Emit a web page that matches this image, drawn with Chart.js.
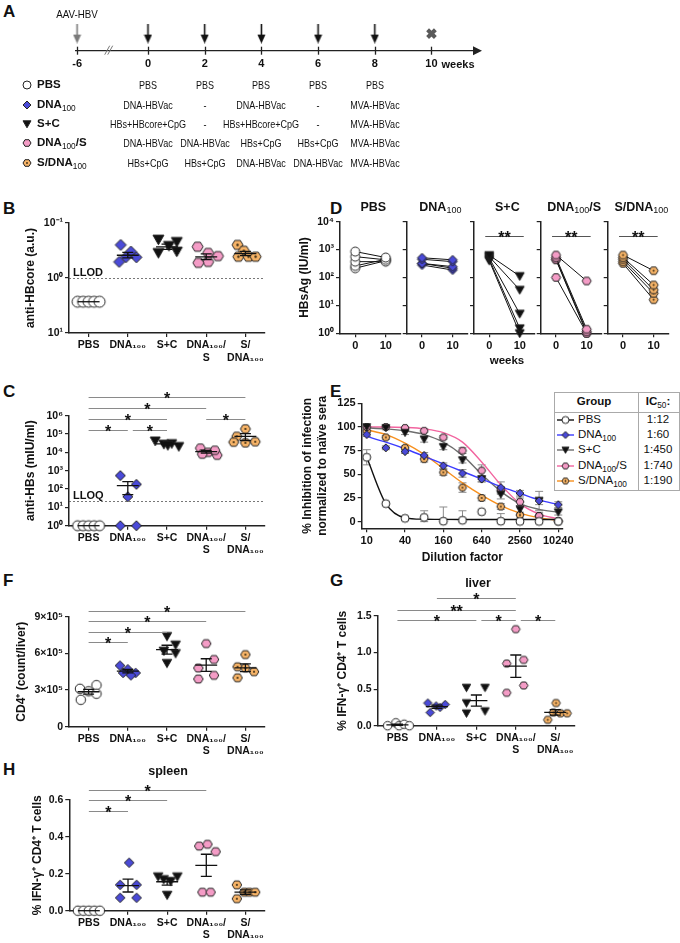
<!DOCTYPE html>
<html>
<head>
<meta charset="utf-8">
<script src="https://cdn.jsdelivr.net/npm/chart.js@4.4.1/dist/chart.umd.min.js"></script>
<style>
html, body { margin: 0; padding: 0; background: #fff; }
body { width: 680px; height: 943px; position: relative; overflow: hidden; font-family: "Liberation Sans", Arial, Helvetica, sans-serif; color: #111; }
canvas { position: absolute; }
.t { position: absolute; white-space: nowrap; line-height: 1; transform: translate(-50%, -50%); }
.lt { position: absolute; white-space: nowrap; line-height: 1; transform: translate(0, -50%); }
.pl { position: absolute; font-weight: bold; font-size: 17px; line-height: 1; transform: translate(0, -50%); }
.b { font-weight: bold; }
.sch { font-size: 11px; transform: translate(-50%, -50%) scaleX(0.82); }
sub { font-size: 72%; font-weight: normal; vertical-align: -0.28em; line-height: 0; }
.box { position: absolute; border: 1px solid #aaa; background: #fff; }
</style>
</head>
<body>
<script>
const FONT = '"Liberation Sans", Arial, Helvetica, sans-serif';

// ---------- groups / labels ----------
const groupHtml = ['PBS', 'DNA<sub>100</sub>', 'S+C', 'DNA<sub>100</sub>/S', 'S/DNA<sub>100</sub>'];
const dotLabels = ['PBS', 'DNA₁₀₀', 'S+C', ['DNA₁₀₀/', 'S'], ['S/', 'DNA₁₀₀']];

// ---------- A: schedule ----------
const timeTicks = [-6, 0, 2, 4, 6, 8, 10];
const doseWeeks = [0, 2, 4, 6, 8];
const infectWeek = -6;
const endWeek = 10;
const schedPBS = ['PBS', 'PBS', 'PBS', 'PBS', 'PBS'];
const schedDNA = ['DNA-HBVac', '-', 'DNA-HBVac', '-', 'MVA-HBVac'];
const schedSC = ['HBs+HBcore+CpG', '-', 'HBs+HBcore+CpG', '-', 'MVA-HBVac'];
const schedDS = ['DNA-HBVac', 'DNA-HBVac', 'HBs+CpG', 'HBs+CpG', 'MVA-HBVac'];
const schedSD = ['HBs+CpG', 'HBs+CpG', 'DNA-HBVac', 'DNA-HBVac', 'MVA-HBVac'];

// ---------- B: anti-HBcore ----------
const hbcPBS = [2.7, 2.7, 2.7, 2.7, 2.7];
const hbcDNA = [0.25, 0.33, 0.42, 0.42, 0.51];
const hbcSC = [0.2, 0.22, 0.26, 0.33, 0.35];
const hbcDS = [0.27, 0.35, 0.4, 0.51, 0.53];
const hbcSD = [0.25, 0.32, 0.41, 0.41, 0.41];
const hbcTicks = [0.1, 1, 10];
const hbcLLOD = 1;

// ---------- C: anti-HBs ----------
const hbsPBS = [1, 1, 1, 1, 1];
const hbsDNA = [540, 180, 38, 1, 1];
const hbsSC = [28000, 42000, 30000, 21000, 24000];
const hbsDS = [17000, 10000, 7000, 8000, 13000];
const hbsSD = [190000, 75000, 36000, 33000, 38000];
const hbsTicks = [1, 10, 100, 1e3, 1e4, 1e5, 1e6];
const hbsLLOQ = 22;
const sigC = [[1, 5, 1e7, '*'], [1, 4, 2.5e6, '*'], [1, 3, 6.3e5, '*'], [1, 2, 1.6e5, '*'], [2, 3, 1.6e5, '*'], [4, 5, 6.3e5, '*']];

// ---------- D: HBsAg week 0 / week 10 ----------
const weekCats = ['0', '10'];
const agPBS0 = [850, 560, 370, 260, 215],   agPBS10 = [520, 430, 370, 450, 400];
const agDNA0 = [510, 450, 320, 320, 280],   agDNA10 = [430, 370, 245, 215, 185];
const agSC0 = [630, 560, 500, 450, 400],    agSC10 = [112, 36, 5, 1.5, 1];
const agDS0 = [640, 520, 450, 430, 100],    agDS10 = [75, 1.4, 1.15, 1, 1];
const agSD0 = [640, 520, 450, 370, 320],    agSD10 = [175, 54, 36, 27, 16];
const agTicks = [1, 10, 100, 1000, 10000];
const sigD = [null, null, [0, 1, 3162, '**'], [0, 1, 3162, '**'], [0, 1, 3162, '**']];

// ---------- E: neutralisation ----------
const dilutions = [10, 20, 40, 80, 160, 320, 640, 1280, 2560, 5120, 10240];
const dilTicks = [10, 40, 160, 640, 2560, 10240];
const inhTicks = [0, 25, 50, 75, 100, 125];
const inhPBS = [68, 19, 3.5, 4.5, 0.5, 1.5, 10.5, 0.5, 0.3, 0.3, 0.3];
const inhDNA = [92, 78, 74, 70, 59, 51, 45, 36, 30, 22, 18];
const inhSC = [100, 99, 94, 87, 79, 65, 45, 29, 13, 22, 10];
const inhDS = [100, 100, 99, 96, 89, 75, 54, 33, 21, 6, 0.5];
const inhSD = [96, 89, 78, 66, 52, 36, 25, 16, 7, 6, 0.5];
const fitPBS = [68, 19, 4, 2.6, 2.4, 2.3, 2.3, 2.3, 2.3, 2.3, 2.3];
const fitDNA = [90, 84, 77, 69, 61, 53, 45, 37, 30, 23, 18];
const fitSC = [99, 98, 96, 92, 84, 70, 50, 32, 19, 13, 10];
const fitDS = [100, 100, 99.5, 98, 94, 84, 63, 39, 19, 8, 3];
const fitSD = [97, 92, 83, 71, 56, 41, 28, 17, 9, 4, 1.5];
const errPBS = [8, 0, 0, 7, 15, 10, 0, 8, 0, 0, 0];
const errDNA = [2, 2, 2, 3, 3, 4, 3, 6, 3, 4, 3];
const errSC = [1, 2, 2, 3, 3, 3, 3, 5, 4, 10, 3];
const errDS = [1, 1, 1, 2, 2, 3, 6, 4, 4, 3, 1];
const errSD = [2, 2, 2, 3, 3, 5, 3, 3, 3, 4, 1];
const ic50 = ['1:12', '1:60', '1:450', '1:740', '1:190'];

// ---------- F: CD4 count ----------
const cd4PBS = [3.4e5, 3.1e5, 2.9e5, 2.7e5, 2.2e5];
const cd4DNA = [5.0e5, 4.7e5, 4.4e5, 4.4e5, 4.2e5];
const cd4SC = [7.4e5, 6.7e5, 6.2e5, 6.0e5, 5.2e5];
const cd4DS = [6.8e5, 5.5e5, 4.8e5, 4.2e5, 3.9e5];
const cd4SD = [5.9e5, 4.9e5, 4.8e5, 4.5e5, 4.0e5];
const cd4Ticks = [0, 3e5, 6e5, 9e5];
const sigF = [[1, 5, 9.46e5, '*'], [1, 4, 8.64e5, '*'], [1, 3, 7.77e5, '*'], [1, 2, 6.9e5, '*']];

// ---------- G: liver IFN-g ----------
const livPBS = [0, 0.04, 0, 0.02, 0];
const livDNA = [0.31, 0.27, 0.29, 0.25, 0.18];
const livSC = [0.52, 0.52, 0.31, 0.2, 0.17];
const livDS = [1.32, 0.9, 0.85, 0.55, 0.45];
const livSD = [0.31, 0.18, 0.17, 0.17, 0.08];
const livTicks = [0, 0.5, 1, 1.5];
const sigG = [[2, 4, 1.74, '*'], [1, 4, 1.585, '**'], [1, 3, 1.444, '*'], [3, 4, 1.444, '*'], [4, 5, 1.444, '*']];

// ---------- H: spleen IFN-g ----------
const splPBS = [0, 0, 0, 0, 0];
const splDNA = [0.26, 0.14, 0.14, 0.07, 0.07];
const splSC = [0.185, 0.185, 0.17, 0.16, 0.085];
const splDS = [0.35, 0.36, 0.32, 0.1, 0.1];
const splSD = [0.14, 0.1, 0.1, 0.1, 0.065];
const splTicks = [0, 0.2, 0.4, 0.6];
const sigH = [[1, 4, 0.656, '*'], [1, 3, 0.598, '*'], [1, 2, 0.542, '*']];

// horizontal scatter of dots inside a group (fraction of group spacing)
const rowJit = [-0.28, -0.14, 0, 0.14, 0.28];
const jitB = [rowJit, [-0.18, 0.08, -0.05, 0.22, -0.22], [-0.22, 0.25, 0.05, 0.25, -0.22], [-0.22, 0.05, 0.3, 0.05, -0.2], [-0.2, -0.04, -0.18, 0.08, 0.26]];
const jitC = [rowJit, [-0.19, 0.22, 0, -0.19, 0.22], [-0.08, -0.3, 0.12, 0.3, 0.02], [-0.15, 0.05, 0.28, -0.1, 0.22], [0, -0.22, -0.3, 0, 0.25]];
const jitF = [[0.2, -0.22, 0, 0.2, -0.2], [-0.2, 0, -0.12, 0.2, 0.08], [0, 0.22, -0.08, 0.22, 0], [0, 0.2, -0.2, 0.2, -0.2], [0, -0.2, 0, 0.22, -0.2]];
const jitG = [[-0.25, -0.04, 0.04, 0.17, 0.3], [-0.23, -0.02, 0.21, 0.08, -0.17], [-0.25, 0.22, -0.25, 0.22, -0.25], [0, 0.2, -0.23, 0.2, -0.23], [0.02, -0.05, 0.13, 0.3, -0.19]];
const jitH = [rowJit, [0.03, -0.2, 0.22, -0.2, 0.22], [-0.23, 0.26, -0.09, 0.09, 0], [-0.18, 0.03, 0.24, -0.1, 0.11], [-0.22, -0.03, 0.1, 0.25, -0.22]];

// ---------- styles ----------
const INK = '#222';
const BLUE = '#4a4ad8', PINK = '#f49cc6', ORANGE = '#f7b468';
const lineColors = ['#111', '#3c3cff', '#6e6e6e', '#f2649f', '#f7901e'];

Chart.defaults.font.family = FONT;
Chart.defaults.font.weight = 'bold';
Chart.defaults.font.size = 10.5;
Chart.defaults.color = '#111';
Chart.defaults.animation = false;
Chart.defaults.events = [];
Chart.defaults.plugins.legend.display = false;
Chart.defaults.plugins.tooltip.enabled = false;

const SUP = { '-': '⁻', '0': '⁰', '1': '¹', '2': '²', '3': '³', '4': '⁴', '5': '⁵', '6': '⁶', '7': '⁷' };
const pow10 = v => '10' + String(Math.round(Math.log10(v))).split('').map(ch => SUP[ch]).join('');

// marker images
const markCache = {};
function mark(g, d) {
  const key = g + '_' + d;
  if (markCache[key]) return markCache[key];
  const s = Math.ceil(d) + 3;
  const c = document.createElement('canvas');
  c.width = s; c.height = s;
  const x = c.getContext('2d');
  const r = d / 2 - 0.5, m = s / 2;
  x.lineWidth = 1; x.strokeStyle = INK; x.lineJoin = 'round';
  x.beginPath();
  if (g === 0) { x.arc(m, m, r, 0, Math.PI * 2); x.fillStyle = '#fff'; }
  else if (g === 1) { x.moveTo(m, m - r); x.lineTo(m + r, m); x.lineTo(m, m + r); x.lineTo(m - r, m); x.fillStyle = BLUE; }
  else if (g === 2) { x.moveTo(m - r, m - r * 0.8); x.lineTo(m + r, m - r * 0.8); x.lineTo(m, m + r * 0.95); x.fillStyle = '#111'; }
  else {
    for (let k = 0; k < 6; k++) {
      const a = k * Math.PI / 3;
      x.lineTo(m + r * Math.cos(a), m + r * 0.95 * Math.sin(a));
    }
    x.fillStyle = g === 3 ? PINK : ORANGE;
  }
  x.closePath(); x.fill(); x.stroke();
  if (g === 4) { x.beginPath(); x.arc(m, m, Math.max(0.9, d * 0.1), 0, Math.PI * 2); x.fillStyle = '#3a2a10'; x.fill(); }
  markCache[key] = c;
  return c;
}

function arrowMark(col) {
  const c = document.createElement('canvas');
  c.width = 9; c.height = 20;
  const g = c.getContext('2d');
  g.strokeStyle = col; g.fillStyle = col; g.lineWidth = 1.6;
  g.beginPath(); g.moveTo(4.5, 0); g.lineTo(4.5, 13); g.stroke();
  g.beginPath(); g.moveTo(0.5, 11); g.lineTo(8.5, 11); g.lineTo(4.5, 20); g.closePath(); g.fill();
  return c;
}

function makeCanvas(x, y, w, h) {
  const c = document.createElement('canvas');
  c.width = w; c.height = h;
  c.style.left = x + 'px'; c.style.top = y + 'px';
  c.style.width = w + 'px'; c.style.height = h + 'px';
  document.body.appendChild(c);
  return c;
}

function txt(html, x, y, cls, css) {
  const d = document.createElement('div');
  d.className = cls || 't';
  d.innerHTML = html;
  d.style.left = x + 'px'; d.style.top = y + 'px';
  if (css) d.style.cssText += css;
  document.body.appendChild(d);
  return d;
}

function putMark(g, d, x, y) {
  const src = mark(g, d);
  const c = makeCanvas(Math.round(x - src.width / 2), Math.round(y - src.height / 2), src.width, src.height);
  c.getContext('2d').drawImage(src, 0, 0);
}

function mkScale(o) {
  const s = {
    type: o.type || 'linear',
    position: o.position,
    grid: { drawOnChartArea: false, drawTicks: true, tickLength: 4, color: INK, lineWidth: 1.2, offset: false },
    border: { display: true, color: INK, width: 1.5 },
    ticks: { display: o.showLabels !== false, padding: 2, color: '#111', autoSkip: false, maxRotation: 0, font: { size: o.fs || 10.5, weight: 'bold' } },
    title: { display: false }
  };
  if (o.min !== undefined) s.min = o.min;
  if (o.max !== undefined) s.max = o.max;
  if (o.reverse) s.reverse = true;
  if (o.offset) s.offset = true;
  if (o.label) s.ticks.callback = o.label;
  if (o.ticks) s.afterBuildTicks = sc => { sc.ticks = o.ticks.map(v => ({ value: v })); };
  if (o.title) s.title = { display: true, text: o.title, padding: 0, color: '#111', font: { size: 12, weight: 'bold', lineHeight: o.tlh || 1.2 } };
  if (o.size !== undefined) s.afterFit = sc => { if (sc.isHorizontal()) sc.height = o.size; else sc.width = o.size; };
  return s;
}

// annotations: LLOD lines, error bars, mean +/- SEM, significance bars, timeline extras
const annot = {
  id: 'annot',
  beforeDatasetsDraw(chart, args, o) {
    const ctx = chart.ctx, ca = chart.chartArea, x = chart.scales.x, y = chart.scales.y;
    if (o.lod) {
      const py = Math.round(y.getPixelForValue(o.lod.value)) + 0.5;
      ctx.save();
      ctx.setLineDash([2, 2]); ctx.strokeStyle = '#555'; ctx.lineWidth = 0.8;
      ctx.beginPath(); ctx.moveTo(ca.left, py); ctx.lineTo(ca.right, py); ctx.stroke();
      ctx.setLineDash([]);
      ctx.fillStyle = '#111'; ctx.font = 'bold 11px ' + FONT; ctx.textBaseline = 'bottom';
      ctx.fillText(o.lod.label, ca.left + 4, py - 0.5);
      ctx.restore();
    }
    if (o.errors) {
      ctx.save(); ctx.strokeStyle = '#8c8c8c'; ctx.lineWidth = 1;
      chart.data.datasets.forEach(ds => {
        if (!ds.errors) return;
        ds.data.forEach((p, k) => {
          const e = ds.errors[k];
          if (!e) return;
          const px = x.getPixelForValue(p.x);
          const y0 = y.getPixelForValue(Math.max(p.y - e, 0)), y1 = y.getPixelForValue(p.y + e);
          ctx.beginPath();
          ctx.moveTo(px, y0); ctx.lineTo(px, y1);
          ctx.moveTo(px - 4, y1); ctx.lineTo(px + 4, y1);
          ctx.moveTo(px - 4, y0); ctx.lineTo(px + 4, y0);
          ctx.stroke();
        });
      });
      ctx.restore();
    }
  },
  afterDatasetsDraw(chart, args, o) {
    const ctx = chart.ctx, x = chart.scales.x, y = chart.scales.y;
    if (o.meanSem) {
      const unit = x.getPixelForValue(2) - x.getPixelForValue(1);
      ctx.save(); ctx.strokeStyle = '#111'; ctx.lineWidth = 1.3;
      chart.data.datasets.forEach((ds, g) => {
        const v = ds.data.map(p => p.y), n = v.length;
        const m = v.reduce((a, b) => a + b, 0) / n;
        const sd = Math.sqrt(v.reduce((a, b) => a + (b - m) * (b - m), 0) / (n - 1));
        const se = sd / Math.sqrt(n);
        const cx = x.getPixelForValue(g + 1);
        const lo = Math.max(m - se, y.min), hi = m + se;
        const pm = y.getPixelForValue(m), pl = y.getPixelForValue(lo), ph = y.getPixelForValue(hi);
        ctx.beginPath();
        ctx.moveTo(cx - 0.28 * unit, pm); ctx.lineTo(cx + 0.28 * unit, pm);
        if (se > 0) {
          ctx.moveTo(cx, pl); ctx.lineTo(cx, ph);
          ctx.moveTo(cx - 0.14 * unit, pl); ctx.lineTo(cx + 0.14 * unit, pl);
          ctx.moveTo(cx - 0.14 * unit, ph); ctx.lineTo(cx + 0.14 * unit, ph);
        }
        ctx.stroke();
      });
      ctx.restore();
    }
    if (o.sig) {
      const list = o.sig;
      const pad = o.sigPad || 0;
      ctx.save();
      ctx.strokeStyle = o.sigColor || '#8a8a8a'; ctx.lineWidth = 1.2;
      ctx.fillStyle = '#111'; ctx.font = 'bold 16px ' + FONT; ctx.textAlign = 'center'; ctx.textBaseline = 'alphabetic';
      list.forEach(s => {
        let x1 = x.getPixelForValue(s[0]) - pad, x2 = x.getPixelForValue(s[1]) + pad;
        if (list.some(t => t !== s && t[2] === s[2] && t[1] === s[0])) x1 += 5;
        const py = Math.round(y.getPixelForValue(s[2])) + 0.5;
        ctx.beginPath(); ctx.moveTo(x1, py); ctx.lineTo(x2, py); ctx.stroke();
        ctx.fillText(s[3], (x1 + x2) / 2, py + 6.5);
      });
      ctx.restore();
    }
  },
  afterDraw(chart, args, o) {
    if (!o.timeline) return;
    const ctx = chart.ctx, x = chart.scales.x, yb = chart.chartArea.bottom, r = chart.chartArea.right;
    ctx.save();
    ctx.strokeStyle = INK; ctx.fillStyle = INK; ctx.lineWidth = 1.3;
    x.ticks.forEach(t => {
      const px = Math.round(x.getPixelForValue(t.value)) + 0.5;
      ctx.beginPath(); ctx.moveTo(px, yb - 4); ctx.lineTo(px, yb + 4); ctx.stroke();
    });
    ctx.beginPath(); ctx.moveTo(r - 1, yb - 4.5); ctx.lineTo(r + 8, yb); ctx.lineTo(r - 1, yb + 4.5); ctx.closePath(); ctx.fill();
    const bx = x.getPixelForValue(o.breakAt);
    ctx.strokeStyle = '#777'; ctx.lineWidth = 1;
    ctx.beginPath();
    ctx.moveTo(bx - 5, yb + 4); ctx.lineTo(bx, yb - 5);
    ctx.moveTo(bx - 2, yb + 4); ctx.lineTo(bx + 3, yb - 5);
    ctx.stroke();
    ctx.restore();
  }
};
Chart.register(annot);

// ---------- dot plot builder ----------
function dotPlot(p) {
  const [bx, by, bw, bh] = p.box;
  const [l, t, r, b] = p.area;
  const scaleLeft = p.titleX - 7.2;
  const pad = { left: scaleLeft - bx, top: t - by, right: bx + bw - r, bottom: 3 };
  const xH = by + bh - b - pad.bottom;
  const c = makeCanvas(bx, by, bw, bh);
  return new Chart(c, {
    type: 'scatter',
    data: {
      datasets: p.series.map((vals, g) => ({
        data: vals.map((v, i) => ({ x: g + 1 + p.jit[g][i], y: v })),
        pointStyle: mark(g, p.size), pointRadius: p.size / 2, clip: false
      }))
    },
    options: {
      responsive: false, maintainAspectRatio: false, devicePixelRatio: 1,
      layout: { padding: pad },
      scales: {
        x: mkScale({ position: 'bottom', min: 0.5, max: 5.5, ticks: [1, 2, 3, 4, 5], label: (v, i) => dotLabels[i], size: xH }),
        y: mkScale({ position: 'left', type: p.yType, min: p.min, max: p.max, reverse: p.reverse, ticks: p.yTicks, label: p.yLabel, size: l - scaleLeft, title: p.title })
      },
      plugins: { annot: { meanSem: true, sig: p.sig || null, lod: p.lod || null } }
    }
  });
}

// ---------- panel letters ----------
[['A', 3, 11], ['B', 3, 208], ['C', 3, 391], ['D', 330, 208], ['E', 330, 391], ['F', 3, 580], ['G', 330, 580], ['H', 3, 769]]
  .forEach(([s, x, y]) => txt(s, x, y, 'pl'));

// ---------- A ----------
const tpos = w => (w < 0 ? -2.5 : w);
const chartA = new Chart(makeCanvas(0, 0, 500, 80), {
  type: 'scatter',
  data: {
    datasets: [
      { data: [{ x: tpos(infectWeek), y: 0.42 }], pointStyle: arrowMark('#7a7a7a'), pointRadius: 5, clip: false },
      { data: doseWeeks.map(w => ({ x: tpos(w), y: 0.42 })), pointStyle: arrowMark('#111'), pointRadius: 5, clip: false },
      { data: [{ x: tpos(endWeek), y: 0.42 }], pointStyle: 'crossRot', pointRadius: 5.5, borderWidth: 4, borderColor: '#5a5a5a', clip: false }
    ]
  },
  options: {
    responsive: false, maintainAspectRatio: false, devicePixelRatio: 1,
    layout: { padding: { left: 75.7, right: 26, top: 10, bottom: 0 } },
    scales: {
      x: {
        type: 'linear', position: 'bottom', min: -2.55, max: 11.5,
        grid: { drawOnChartArea: false, drawTicks: false },
        border: { color: INK, width: 1.3 },
        ticks: { padding: 6.5, autoSkip: false, maxRotation: 0, font: { size: 11, weight: 'bold' }, callback: (v, i) => String(timeTicks[i]) },
        afterBuildTicks: s => { s.ticks = timeTicks.map(w => ({ value: tpos(w) })); },
        afterFit: s => { s.height = 29.3; }
      },
      y: { display: false, min: 0, max: 1 }
    },
    plugins: { annot: { timeline: true, breakAt: -1.35 } }
  }
});
const ax = chartA.scales.x;
txt('AAV-HBV', ax.getPixelForValue(tpos(infectWeek)), 15, 't', 'font-size:11.5px;transform:translate(-50%,-50%) scaleX(0.85)');
txt('weeks', 458, 63.5, 't b', 'font-size:11px');
const rowY = [85, 104.5, 124, 143, 162.5];
[schedPBS, schedDNA, schedSC, schedDS, schedSD].forEach((row, g) => {
  putMark(g, 9, 26.5, rowY[g]);
  txt(groupHtml[g], 37, rowY[g], 'lt b', 'font-size:11.5px');
  row.forEach((s, k) => txt(s, ax.getPixelForValue(doseWeeks[k]), rowY[g], 't sch'));
});

// ---------- B ----------
dotPlot({
  box: [0, 205, 280, 160], area: [69, 223, 265, 333], titleX: 31, title: 'anti-HBcore (a.u.)',
  yType: 'logarithmic', min: 0.1, max: 10, reverse: true, yTicks: hbcTicks, yLabel: v => pow10(v),
  series: [hbcPBS, hbcDNA, hbcSC, hbcDS, hbcSD], jit: jitB, size: 12,
  lod: { value: hbcLLOD, label: 'LLOD' }
});

// ---------- C ----------
dotPlot({
  box: [0, 378, 280, 185], area: [69, 415.7, 265, 525.7], titleX: 31, title: 'anti-HBs (mIU/ml)',
  yType: 'logarithmic', min: 1, max: 1e6, yTicks: hbsTicks, yLabel: v => pow10(v),
  series: [hbsPBS, hbsDNA, hbsSC, hbsDS, hbsSD], jit: jitC, size: 11,
  lod: { value: hbsLLOQ, label: 'LLOQ' }, sig: sigC
});

// ---------- D ----------
const agW0 = [agPBS0, agDNA0, agSC0, agDS0, agSD0];
const agW10 = [agPBS10, agDNA10, agSC10, agDS10, agSD10];
const dEdges = [340, 406.7, 474, 540.7, 607.7, 675];
for (let g = 0; g < 5; g++) {
  const L = dEdges[g], R = dEdges[g + 1];
  const first = g === 0;
  const scaleLeft = first ? 305 - 7.2 : L - 8;
  const bx = Math.floor(scaleLeft), bw = Math.ceil(R) - bx;
  const by = 212, bh = 145;
  new Chart(makeCanvas(bx, by, bw, bh), {
    type: 'line',
    data: {
      labels: weekCats,
      datasets: agW0[g].map((v, i) => ({
        data: [v, agW10[g][i]], borderColor: '#111', borderWidth: 1,
        pointStyle: mark(g, 10), pointRadius: 5, clip: false
      }))
    },
    options: {
      responsive: false, maintainAspectRatio: false, devicePixelRatio: 1,
      layout: { padding: { left: scaleLeft - bx, right: bx + bw - R, top: 221.7 - by, bottom: by + bh - 333.3 - 22 } },
      scales: {
        x: mkScale({ position: 'bottom', type: 'category', offset: true, size: 22, fs: 11 }),
        y: mkScale({ position: 'left', type: 'logarithmic', min: 1, max: 1e4, ticks: agTicks, label: v => pow10(v),
          showLabels: first, size: L - scaleLeft, title: first ? 'HBsAg (IU/ml)' : undefined })
      },
      plugins: { annot: { sig: sigD[g] ? [sigD[g]] : null, sigPad: 4, sigColor: '#555' } }
    }
  });
  txt(groupHtml[g], (L + R) / 2, 207, 't b', 'font-size:12.5px');
}
txt('weeks', 507, 361, 't b', 'font-size:11.5px');

// ---------- E ----------
const eSeries = [inhPBS, inhDNA, inhSC, inhDS, inhSD];
const eFit = [fitPBS, fitDNA, fitSC, fitDS, fitSD];
const eErr = [errPBS, errDNA, errSC, errDS, errSD];
new Chart(makeCanvas(295, 390, 286, 178), {
  type: 'scatter',
  data: {
    datasets: [
      ...eSeries.map((s, g) => ({
        data: dilutions.map((d, i) => ({ x: d, y: s[i] })), errors: eErr[g],
        pointStyle: mark(g, 9), pointRadius: 4.5, order: 1, clip: false
      })),
      ...eFit.map((s, g) => ({
        data: dilutions.map((d, i) => ({ x: d, y: s[i] })), showLine: true,
        borderColor: lineColors[g], borderWidth: 1.4, pointRadius: 0, cubicInterpolationMode: 'monotone', order: 2, clip: false
      }))
    ]
  },
  options: {
    responsive: false, maintainAspectRatio: false, devicePixelRatio: 1,
    layout: { padding: { left: 5.5, top: 13.3, right: 18, bottom: 2.8 } },
    scales: {
      x: mkScale({ position: 'bottom', type: 'logarithmic', min: 8.34, max: 12150, ticks: dilTicks, label: v => String(v), size: 36.9, title: 'Dilution factor', fs: 11 }),
      y: mkScale({ position: 'left', min: -7, max: 125, ticks: inhTicks, label: v => String(v), size: 61.2, title: ['% Inhibition of infection', 'normalized to naïve sera'], tlh: 1.25, fs: 11 })
    },
    plugins: { annot: { errors: true } }
  }
});

// E legend table
txt('', 554, 392, 'box', 'width:124px;height:97px;');
txt('', 554, 411.5, 'box', 'width:125px;height:0;border-width:1px 0 0 0;background:none;');
txt('', 638, 392, 'box', 'width:0;height:98px;border-width:0 0 0 1px;background:none;');
txt('Group', 594, 402, 't b', 'font-size:11.5px');
txt('IC<sub>50</sub>:', 658, 402, 't b', 'font-size:11.5px');
const tabY = [419.5, 435, 450, 465.5, 481];
ic50.forEach((v, g) => {
  const lc = makeCanvas(557, Math.round(tabY[g]) - 5, 17, 10);
  const lx = lc.getContext('2d');
  lx.strokeStyle = lineColors[g]; lx.lineWidth = 1.4;
  lx.beginPath(); lx.moveTo(0, 5); lx.lineTo(17, 5); lx.stroke();
  const m = mark(g, 8);
  lx.drawImage(m, 8.5 - m.width / 2, 5 - m.height / 2);
  txt(groupHtml[g], 578, tabY[g], 'lt', 'font-size:11.5px');
  txt(v, 658, tabY[g], 't', 'font-size:11.5px');
});

// ---------- F ----------
dotPlot({
  box: [0, 595, 280, 167], area: [69, 616.7, 265, 726.7], titleX: 22, title: 'CD4⁺ (count/liver)',
  min: 0, max: 9e5, yTicks: cd4Ticks, yLabel: v => (v === 0 ? '0' : (v / 1e5) + '×10⁵'),
  series: [cd4PBS, cd4DNA, cd4SC, cd4DS, cd4SD], jit: jitF, size: 10.5, sig: sigF
});

// ---------- G ----------
dotPlot({
  box: [330, 588, 262, 175], area: [377.7, 616, 575, 725.7], titleX: 343, title: '% IFN-γ⁺ CD4⁺ T cells',
  min: 0, max: 1.5, yTicks: livTicks, yLabel: v => v.toFixed(1),
  series: [livPBS, livDNA, livSC, livDS, livSD], jit: jitG, size: 9.5, sig: sigG
});
txt('liver', 478, 583, 't b', 'font-size:12.5px');

// ---------- H ----------
dotPlot({
  box: [0, 775, 280, 168], area: [69.3, 800, 265, 910.7], titleX: 38, title: '% IFN-γ⁺ CD4⁺ T cells',
  min: 0, max: 0.6, yTicks: splTicks, yLabel: v => v.toFixed(1),
  series: [splPBS, splDNA, splSC, splDS, splSD], jit: jitH, size: 10.5, sig: sigH
});
txt('spleen', 168, 771, 't b', 'font-size:12.5px');
</script>
</body>
</html>
